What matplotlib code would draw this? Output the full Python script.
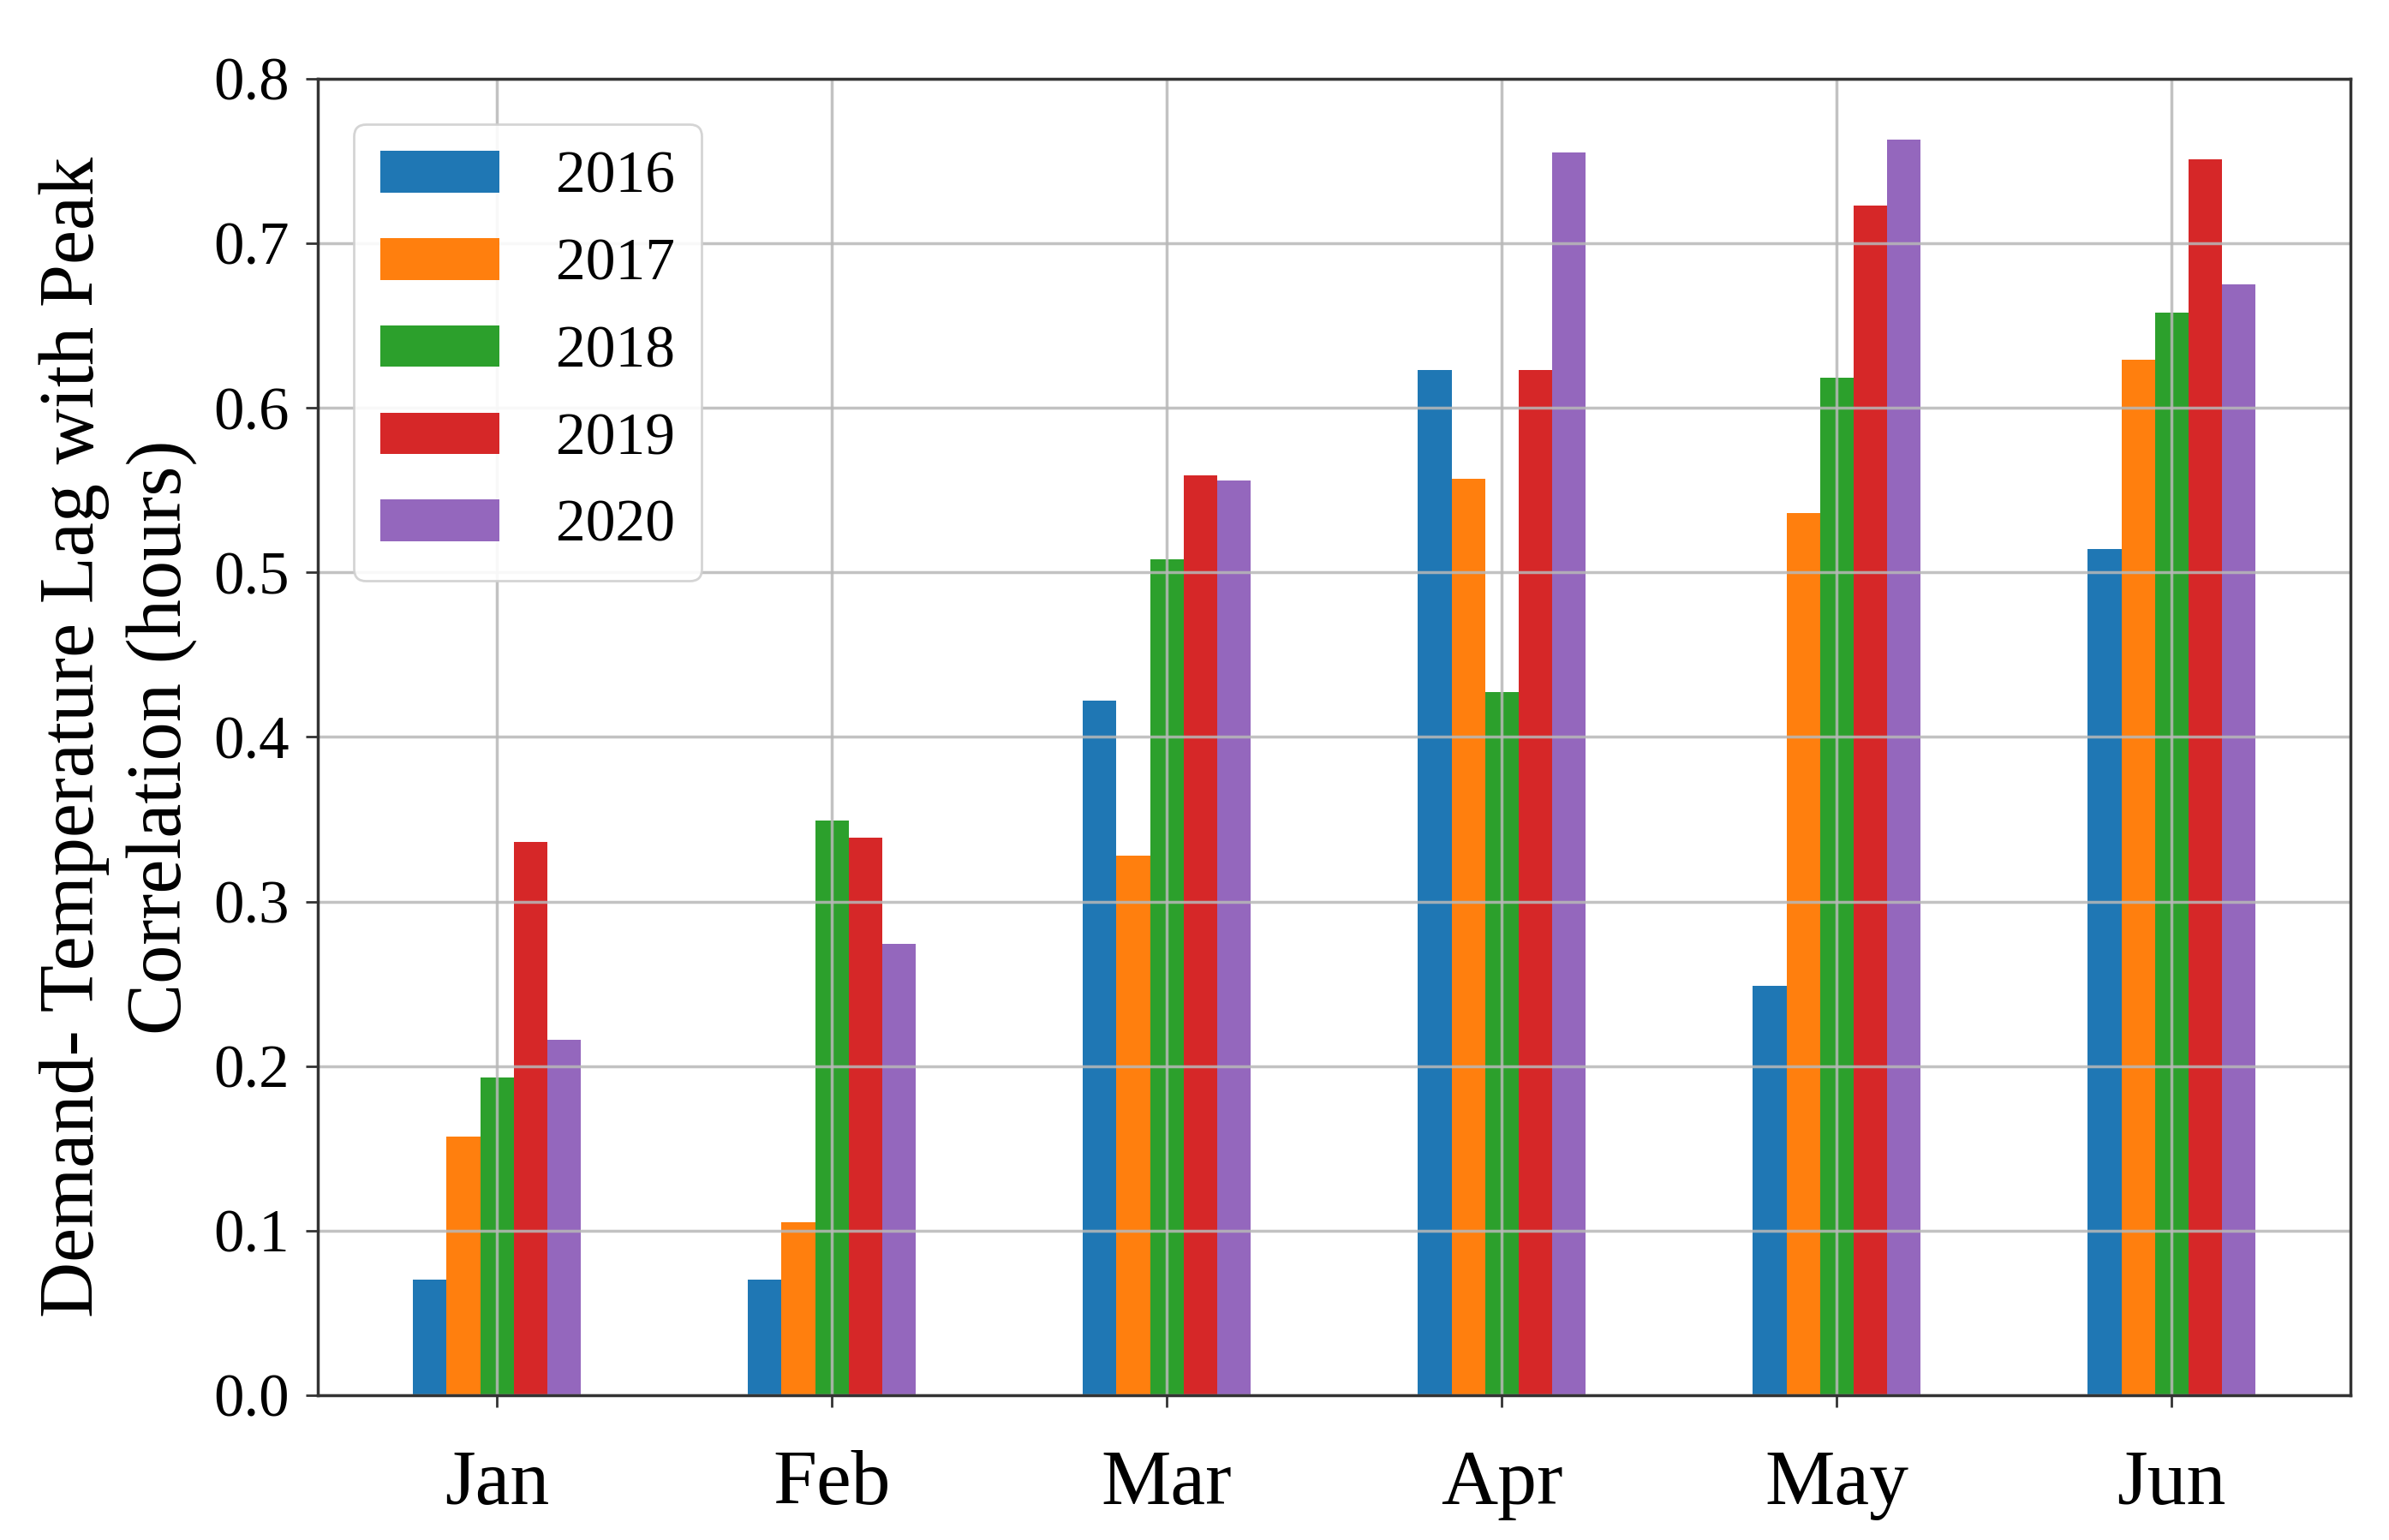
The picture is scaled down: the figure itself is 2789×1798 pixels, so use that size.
import numpy as np
import matplotlib
matplotlib.use("Agg")
import matplotlib.pyplot as plt

plt.rcParams['font.family'] = ['Liberation Serif', 'DejaVu Serif']

months = ["Jan", "Feb", "Mar", "Apr", "May", "Jun"]
years = ["2016", "2017", "2018", "2019", "2020"]
colors = ["#1f77b4", "#ff7f0e", "#2ca02c", "#d62728", "#9467bd"]

lag_2016 = [0.070, 0.070, 0.422, 0.623, 0.249, 0.514]
lag_2017 = [0.157, 0.105, 0.328, 0.557, 0.536, 0.629]
lag_2018 = [0.193, 0.349, 0.508, 0.427, 0.618, 0.658]
lag_2019 = [0.336, 0.339, 0.559, 0.623, 0.723, 0.751]
lag_2020 = [0.216, 0.274, 0.556, 0.755, 0.763, 0.675]
series = [lag_2016, lag_2017, lag_2018, lag_2019, lag_2020]

fig = plt.figure(figsize=(27.89, 17.98), dpi=100)
ax = fig.add_axes([0.133, 0.094, 0.851, 0.855])

x = np.arange(len(months))
w = 0.1
for i, (vals, yr, c) in enumerate(zip(series, years, colors)):
    ax.bar(x + (i - 2) * w, vals, width=w, color=c, label=yr)

ax.set_xlim(-0.535, len(months) - 1 + 0.535)
ax.set_ylim(0, 0.8)
ax.set_yticks(np.arange(0, 0.81, 0.1))
ax.set_yticklabels(["%.1f" % v for v in np.arange(0, 0.81, 0.1)], fontsize=51)
ax.set_xticks(x)
ax.set_xticklabels(months, fontsize=66)
ax.tick_params(axis='x', length=10, width=2, pad=36, color='#333333')
ax.tick_params(axis='y', length=10, width=2, pad=14, color='#333333')

ax.grid(True, color='#b8b8b8', linewidth=2.5, alpha=0.85)
for s in ax.spines.values():
    s.set_color('#333333')
    s.set_linewidth(2.5)

ax.set_ylabel("Demand- Temperature Lag with Peak\nCorrelation (hours)",
              fontsize=65, labelpad=14, linespacing=1.3)

leg = ax.legend(loc='upper left', fontsize=50, handlelength=2.0, handleheight=0.7,
                handletextpad=0.95, labelspacing=0.55, borderpad=0.45,
                bbox_to_anchor=(0.003, 0.988), framealpha=0.9)
leg.get_frame().set_edgecolor('#d0d0d0')
leg.get_frame().set_linewidth(2)

fig.savefig("out.png", dpi=100)
